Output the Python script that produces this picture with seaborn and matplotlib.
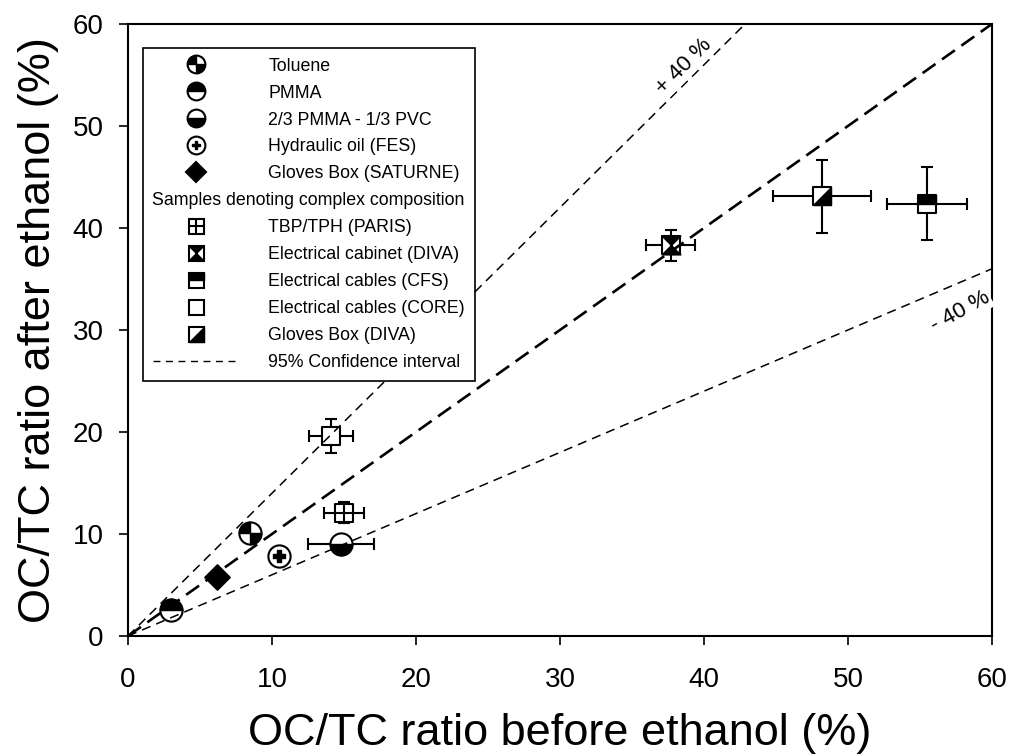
import numpy as np
import pandas as pd
import matplotlib
matplotlib.use("Agg")
import matplotlib.pyplot as plt
from matplotlib.path import Path
from matplotlib.lines import Line2D
from matplotlib.legend_handler import HandlerTuple
import seaborn as sns

# ============================
# DATA
# ============================
samples = ["Toluene", "PMMA", "2/3 PMMA - 1/3 PVC", "Hydraulic oil (FES)",
           "Gloves Box (SATURNE)", "TBP/TPH (PARIS)", "Electrical cabinet (DIVA)",
           "Electrical cables (CFS)", "Electrical cables (CORE)", "Gloves Box (DIVA)"]
oc_tc_before = [8.5, 3.0, 14.8, 10.5, 6.2, 15.0, 37.7, 55.5, 14.1, 48.2]
oc_tc_after = [10.1, 2.5, 9.0, 7.8, 5.8, 12.1, 38.3, 42.4, 19.6, 43.1]
err_before = [0.0, 0.0, 2.3, 0.0, 0.0, 1.4, 1.7, 2.8, 1.5, 3.4]
err_after = [0.0, 0.0, 0.0, 0.0, 0.0, 1.0, 1.5, 3.6, 1.7, 3.6]

# reference lines: 1:1 and +/- 40 %
ref_x = [0, 60]
ref_one = [0, 60]
ref_plus40 = [0, 84]
ref_minus40 = [0, 36]

subheader = "Samples denoting complex composition"
ci_label = "95% Confidence interval"

df = pd.DataFrame({"sample": samples, "before": oc_tc_before, "after": oc_tc_after,
                   "xerr": err_before, "yerr": err_after})

# ============================
# MARKERS
# ============================
def comp(*paths):
    return Path.make_compound_path(*paths)

def poly(pts):
    return Path(pts + [pts[0]], closed=True)

quarters = comp(Path.wedge(90, 180), Path.wedge(270, 360))
top_half_c = Path.wedge(0, 180)
bot_half_c = Path.wedge(180, 360)
top_half_s = poly([(-1, 0), (1, 0), (1, 1), (-1, 1)])
hourglass = comp(poly([(-1, 1), (1, 1), (0, 0)]), poly([(-1, -1), (1, -1), (0, 0)]))
diag_s = poly([(-1, -1), (1, -1), (1, 1)])

# (base marker, base face, overlay marker, overlay size factor)
styles = {
    "Toluene": ("o", "white", quarters, 1.0),
    "PMMA": ("o", "white", top_half_c, 1.0),
    "2/3 PMMA - 1/3 PVC": ("o", "white", bot_half_c, 1.0),
    "Hydraulic oil (FES)": ("o", "white", "P", 0.5),
    "Gloves Box (SATURNE)": ("D", "black", None, 1.0),
    "TBP/TPH (PARIS)": ("s", "white", "+", 1.0),
    "Electrical cabinet (DIVA)": ("s", "white", hourglass, 1.0),
    "Electrical cables (CFS)": ("s", "white", top_half_s, 1.0),
    "Electrical cables (CORE)": ("s", "white", None, 1.0),
    "Gloves Box (DIVA)": ("s", "white", diag_s, 1.0),
}
size_of = {"o": 16, "D": 12.5, "s": 13.5}

# ============================
# FIGURE
# ============================
sns.set_style("ticks")
plt.rcParams["font.family"] = ["Liberation Sans", "DejaVu Sans"]
plt.rcParams["text.color"] = "black"
plt.rcParams["axes.labelcolor"] = "black"
plt.rcParams["xtick.color"] = "black"
plt.rcParams["ytick.color"] = "black"

fig = plt.figure(figsize=(10.15, 7.54), dpi=100)
ax = fig.add_axes([0.1261, 0.1565, 0.8512, 0.8117])

sns.lineplot(x=ref_x, y=ref_one, ax=ax, color="black", lw=1.9, dashes=(6, 3), zorder=5)
sns.lineplot(x=ref_x, y=ref_plus40, ax=ax, color="black", lw=1.1, dashes=(6, 4), zorder=5)
sns.lineplot(x=ref_x, y=ref_minus40, ax=ax, color="black", lw=1.1, dashes=(6, 4), zorder=5)

has_err = df[(df["xerr"] > 0) | (df["yerr"] > 0)]
ax.errorbar(has_err["before"], has_err["after"], xerr=has_err["xerr"],
            yerr=has_err["yerr"].where(has_err["yerr"] > 0), fmt="none",
            ecolor="black", elinewidth=1.5, capsize=4, capthick=1.5, zorder=2)

handles = []
for _, row in df.iterrows():
    base, face, over, fac = styles[row["sample"]]
    ms = size_of[base]
    sns.scatterplot(x=[row["before"]], y=[row["after"]], ax=ax, marker=base, s=ms ** 2,
                    color=face, edgecolor="black", linewidth=1.5, zorder=3)
    hb = Line2D([], [], ls="none", marker=base, markersize=ms * 0.8,
                markerfacecolor=face, markeredgecolor="black", markeredgewidth=1.5)
    parts = [hb]
    if over is not None:
        if over == "+":
            sns.scatterplot(x=[row["before"]], y=[row["after"]], ax=ax, marker="+",
                            s=ms ** 2, color="black", linewidth=1.5, zorder=4)
            ho = Line2D([], [], ls="none", marker="+", markersize=ms * 0.8,
                        markeredgecolor="black", markeredgewidth=1.5)
        else:
            sns.scatterplot(x=[row["before"]], y=[row["after"]], ax=ax, marker=over,
                            s=(ms * fac) ** 2, color="black", edgecolor="black",
                            linewidth=1.0, zorder=4)
            ho = Line2D([], [], ls="none", marker=over, markersize=ms * fac * 0.8,
                        markerfacecolor="black", markeredgecolor="black", markeredgewidth=1.0)
        parts.append(ho)
    handles.append((tuple(parts), row["sample"]))

ax.set_xlim(0, 60)
ax.set_ylim(0, 60)
ax.set_xticks(range(0, 61, 10))
ax.set_yticks(range(0, 61, 10))
for s in ax.spines.values():
    s.set_linewidth(1.5)
    s.set_color("black")
ax.tick_params(axis="both", direction="out", length=6.5, width=1.2, labelsize=20,
               color="black", labelcolor="black")
ax.tick_params(axis="x", pad=16)
ax.tick_params(axis="y", pad=11)
ax.set_xlabel("OC/TC ratio before ethanol (%)", fontsize=32.5, labelpad=14)
ax.set_ylabel("OC/TC ratio after ethanol (%)", fontsize=32.5, labelpad=10)

ax.text(38.6, 55.8, "+ 40 %", rotation=45, fontsize=16, ha="center", va="center",
        bbox=dict(facecolor="white", edgecolor="none", pad=1), zorder=6)
ax.text(57.8, 31.8, "- 40 %", rotation=29, fontsize=16, ha="center", va="center",
        bbox=dict(facecolor="white", edgecolor="none", pad=1), zorder=6)

# legend
blank = Line2D([], [], ls="none")
ci = Line2D([], [], color="black", lw=1.0, dashes=(5, 4))
leg_h = [h for h, _ in handles[:5]] + [blank] + [h for h, _ in handles[5:]] + [ci]
leg_l = [l for _, l in handles[:5]] + [" "] + [l for _, l in handles[5:]] + [ci_label]
leg = ax.legend(leg_h, leg_l, loc="upper left", bbox_to_anchor=(0.0174, 0.961),
                borderaxespad=0, fontsize=12.8, frameon=True, fancybox=False,
                edgecolor="black", framealpha=1, handlelength=4.9, handletextpad=1.6,
                borderpad=0.55, labelspacing=0.56,
                handler_map={tuple: HandlerTuple(ndivide=1, pad=0)})
leg.get_frame().set_linewidth(1.2)
leg.set_zorder(10)

fig.canvas.draw()
frame_bb = leg.get_frame().get_window_extent()
row_bb = leg.get_texts()[5].get_window_extent()
ref_bb = leg.get_texts()[4].get_window_extent()
tx, ty = fig.transFigure.inverted().transform((frame_bb.x0 + 9, row_bb.y0 + (ref_bb.y1 - ref_bb.y0) / 2))
fig.text(tx, ty, subheader, fontsize=12.8, ha="left", va="center", zorder=11)

plt.savefig("out.png", dpi=100)
plt.close()
